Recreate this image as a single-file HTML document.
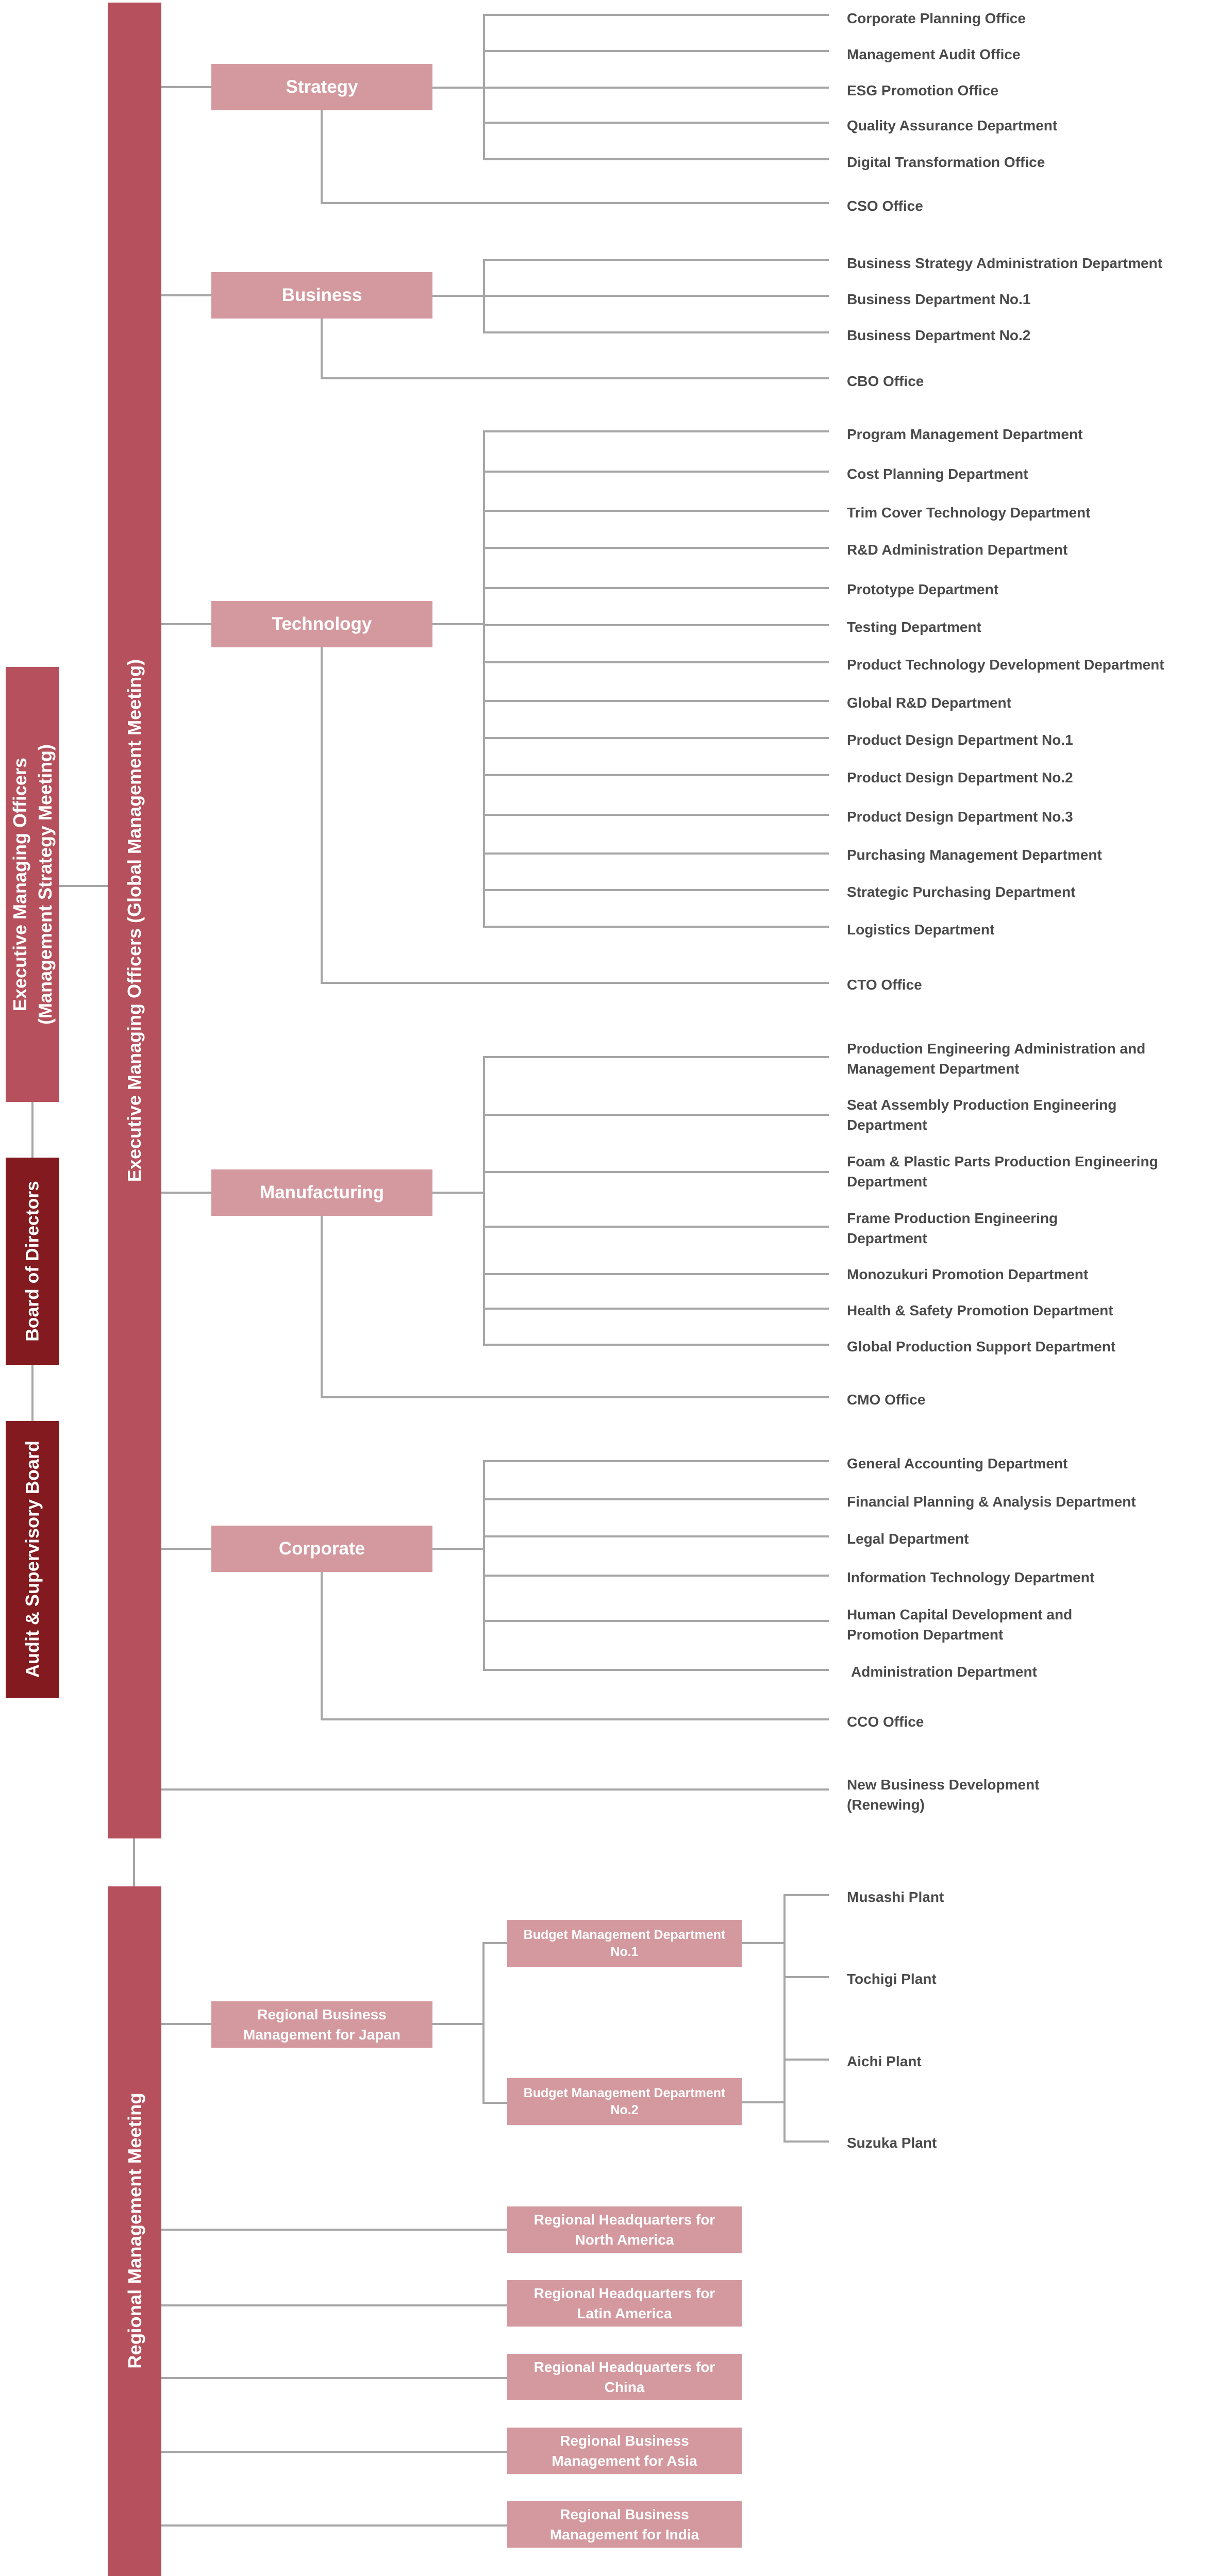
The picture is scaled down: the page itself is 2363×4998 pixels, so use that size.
<!DOCTYPE html>
<html>
<head>
<meta charset="utf-8">
<style>
html,body{margin:0;padding:0;background:#fff;}
body{width:2363px;height:4998px;position:relative;overflow:hidden;font-family:"Liberation Sans",sans-serif;}
.h{position:absolute;height:4px;background:#a6a6a6;}
.v{position:absolute;width:4px;background:#a6a6a6;}
.t{position:absolute;left:1643px;margin-top:3px;font-weight:bold;font-size:28px;line-height:39px;color:#4a4a4a;white-space:nowrap;}
.box{position:absolute;background:#d4999f;color:#fff;display:flex;align-items:center;justify-content:center;text-align:center;font-weight:bold;}
.main{left:410px;width:429px;height:90px;font-size:35px;}
.bar{position:absolute;background:#b5505c;}
.dark{position:absolute;background:#831a1f;}
.rot{position:absolute;transform:translate(-50%,-50%) rotate(-90deg);white-space:nowrap;color:#fff;font-weight:bold;text-align:center;}
.sb{font-size:28px;line-height:39.5px;}
</style>
</head>
<body>

<!-- Bars -->
<div class="bar" style="left:209px;top:5px;width:104px;height:3562px;"></div>
<div class="bar" style="left:209px;top:3660px;width:104px;height:1338px;"></div>
<div class="v" style="left:258px;top:3567px;height:93px;"></div>

<div class="rot" style="left:261px;top:1786px;font-size:36px;">Executive Managing Officers (Global Management Meeting)</div>
<div class="rot" style="left:262px;top:4328px;font-size:36.5px;">Regional Management Meeting</div>

<!-- Left boxes -->
<div class="bar" style="left:11px;top:1294px;width:104px;height:844px;"></div>
<div class="rot" style="left:63px;top:1716px;font-size:36px;line-height:49px;">Executive Managing Officers<br>(Management Strategy Meeting)</div>
<div class="dark" style="left:11px;top:2246px;width:104px;height:402px;"></div>
<div class="rot" style="left:63px;top:2447px;font-size:35.5px;">Board of Directors</div>
<div class="dark" style="left:11px;top:2757px;width:104px;height:537px;"></div>
<div class="rot" style="left:63px;top:3025px;font-size:36px;">Audit &amp; Supervisory Board</div>
<div class="h" style="left:115px;top:1717px;width:94px;"></div>
<div class="v" style="left:61px;top:2138px;height:108px;"></div>
<div class="v" style="left:61px;top:2648px;height:109px;"></div>

<!-- Main boxes -->
<div class="box main" style="top:124px;">Strategy</div>
<div class="box main" style="top:528px;">Business</div>
<div class="box main" style="top:1166px;">Technology</div>
<div class="box main" style="top:2269px;">Manufacturing</div>
<div class="box main" style="top:2960px;">Corporate</div>

<!-- Bar to box connectors -->
<div class="h" style="left:313px;top:167px;width:97px;"></div>
<div class="h" style="left:313px;top:571px;width:97px;"></div>
<div class="h" style="left:313px;top:1209px;width:97px;"></div>
<div class="h" style="left:313px;top:2312px;width:97px;"></div>
<div class="h" style="left:313px;top:3003px;width:97px;"></div>
<div class="h" style="left:313px;top:3925px;width:97px;"></div>

<!-- Box to vertical connectors -->
<div class="h" style="left:839px;top:168px;width:102px;"></div>
<div class="h" style="left:839px;top:572px;width:102px;"></div>
<div class="h" style="left:839px;top:1209px;width:102px;"></div>
<div class="h" style="left:839px;top:2312px;width:102px;"></div>
<div class="h" style="left:839px;top:3003px;width:102px;"></div>

<!-- Verticals at x=939 -->
<div class="v" style="left:937px;top:27px;height:284px;"></div>
<div class="v" style="left:937px;top:502px;height:145px;"></div>
<div class="v" style="left:937px;top:835px;height:964px;"></div>
<div class="v" style="left:937px;top:2049px;height:562px;"></div>
<div class="v" style="left:937px;top:2833px;height:409px;"></div>

<!-- Down lines at x=624 -->
<div class="v" style="left:622px;top:214px;height:182px;"></div>
<div class="v" style="left:622px;top:618px;height:118px;"></div>
<div class="v" style="left:622px;top:1256px;height:653px;"></div>
<div class="v" style="left:622px;top:2359px;height:354px;"></div>
<div class="v" style="left:622px;top:3050px;height:288px;"></div>

<!-- Office lines -->
<div class="h" style="left:622px;top:392px;width:986px;"></div>
<div class="h" style="left:622px;top:732px;width:986px;"></div>
<div class="h" style="left:622px;top:1905px;width:986px;"></div>
<div class="h" style="left:622px;top:2709px;width:986px;"></div>
<div class="h" style="left:622px;top:3334px;width:986px;"></div>
<!-- New business -->
<div class="h" style="left:313px;top:3470px;width:1295px;"></div>

<!-- Strategy items -->
<div class="h" style="left:937px;top:27px;width:671px;"></div>
<div class="h" style="left:937px;top:97px;width:671px;"></div>
<div class="h" style="left:937px;top:168px;width:671px;"></div>
<div class="h" style="left:937px;top:236px;width:671px;"></div>
<div class="h" style="left:937px;top:307px;width:671px;"></div>
<div class="t" style="top:13px;">Corporate Planning Office</div>
<div class="t" style="top:83px;">Management Audit Office</div>
<div class="t" style="top:153px;">ESG Promotion Office</div>
<div class="t" style="top:221px;">Quality Assurance Department</div>
<div class="t" style="top:292px;">Digital Transformation Office</div>
<div class="t" style="top:377px;">CSO Office</div>

<!-- Business items -->
<div class="h" style="left:937px;top:502px;width:671px;"></div>
<div class="h" style="left:937px;top:572px;width:671px;"></div>
<div class="h" style="left:937px;top:643px;width:671px;"></div>
<div class="t" style="top:488px;">Business Strategy Administration Department</div>
<div class="t" style="top:558px;">Business Department No.1</div>
<div class="t" style="top:628px;">Business Department No.2</div>
<div class="t" style="top:717px;">CBO Office</div>

<!-- Technology items -->
<div class="h" style="left:937px;top:835px;width:671px;"></div>
<div class="h" style="left:937px;top:913px;width:671px;"></div>
<div class="h" style="left:937px;top:989px;width:671px;"></div>
<div class="h" style="left:937px;top:1061px;width:671px;"></div>
<div class="h" style="left:937px;top:1139px;width:671px;"></div>
<div class="h" style="left:937px;top:1211px;width:671px;"></div>
<div class="h" style="left:937px;top:1283px;width:671px;"></div>
<div class="h" style="left:937px;top:1358px;width:671px;"></div>
<div class="h" style="left:937px;top:1430px;width:671px;"></div>
<div class="h" style="left:937px;top:1502px;width:671px;"></div>
<div class="h" style="left:937px;top:1579px;width:671px;"></div>
<div class="h" style="left:937px;top:1654px;width:671px;"></div>
<div class="h" style="left:937px;top:1725px;width:671px;"></div>
<div class="h" style="left:937px;top:1796px;width:671px;"></div>
<div class="t" style="top:820px;">Program Management Department</div>
<div class="t" style="top:897px;">Cost Planning Department</div>
<div class="t" style="top:972px;">Trim Cover Technology Department</div>
<div class="t" style="top:1044px;">R&amp;D Administration Department</div>
<div class="t" style="top:1121px;">Prototype Department</div>
<div class="t" style="top:1194px;">Testing Department</div>
<div class="t" style="top:1267px;">Product Technology Development Department</div>
<div class="t" style="top:1341px;">Global R&amp;D Department</div>
<div class="t" style="top:1413px;">Product Design Department No.1</div>
<div class="t" style="top:1486px;">Product Design Department No.2</div>
<div class="t" style="top:1562px;">Product Design Department No.3</div>
<div class="t" style="top:1636px;">Purchasing Management Department</div>
<div class="t" style="top:1708px;">Strategic Purchasing Department</div>
<div class="t" style="top:1781px;">Logistics Department</div>
<div class="t" style="top:1888px;">CTO Office</div>

<!-- Manufacturing items -->
<div class="h" style="left:937px;top:2049px;width:671px;"></div>
<div class="h" style="left:937px;top:2161px;width:671px;"></div>
<div class="h" style="left:937px;top:2272px;width:671px;"></div>
<div class="h" style="left:937px;top:2378px;width:671px;"></div>
<div class="h" style="left:937px;top:2470px;width:671px;"></div>
<div class="h" style="left:937px;top:2537px;width:671px;"></div>
<div class="h" style="left:937px;top:2607px;width:671px;"></div>
<div class="t" style="top:2012px;">Production Engineering Administration and<br>Management Department</div>
<div class="t" style="top:2121px;">Seat Assembly Production Engineering<br>Department</div>
<div class="t" style="top:2231px;">Foam &amp; Plastic Parts Production Engineering<br>Department</div>
<div class="t" style="top:2341px;">Frame Production Engineering<br>Department</div>
<div class="t" style="top:2450px;">Monozukuri Promotion Department</div>
<div class="t" style="top:2520px;">Health &amp; Safety Promotion Department</div>
<div class="t" style="top:2590px;">Global Production Support Department</div>
<div class="t" style="top:2693px;">CMO Office</div>

<!-- Corporate items -->
<div class="h" style="left:937px;top:2833px;width:671px;"></div>
<div class="h" style="left:937px;top:2907px;width:671px;"></div>
<div class="h" style="left:937px;top:2979px;width:671px;"></div>
<div class="h" style="left:937px;top:3055px;width:671px;"></div>
<div class="h" style="left:937px;top:3143px;width:671px;"></div>
<div class="h" style="left:937px;top:3238px;width:671px;"></div>
<div class="t" style="top:2817px;">General Accounting Department</div>
<div class="t" style="top:2891px;">Financial Planning &amp; Analysis Department</div>
<div class="t" style="top:2963px;">Legal Department</div>
<div class="t" style="top:3038px;">Information Technology Department</div>
<div class="t" style="top:3110px;">Human Capital Development and<br>Promotion Department</div>
<div class="t" style="top:3221px;left:1651px;">Administration Department</div>
<div class="t" style="top:3318px;">CCO Office</div>
<div class="t" style="top:3440px;">New Business Development<br>(Renewing)</div>

<!-- Lower section: Japan -->
<div class="box sb" style="left:410px;top:3883px;width:429px;height:90px;">Regional Business<br>Management for Japan</div>
<div class="h" style="left:839px;top:3925px;width:101px;"></div>
<div class="v" style="left:936px;top:3768px;height:314px;"></div>
<div class="h" style="left:936px;top:3768px;width:48px;"></div>
<div class="h" style="left:936px;top:4078px;width:48px;"></div>
<div class="box" style="left:984px;top:3725px;width:455px;height:91px;font-size:25px;line-height:32.5px;">Budget Management Department<br>No.1</div>
<div class="box" style="left:984px;top:4032px;width:455px;height:91px;font-size:25px;line-height:32.5px;">Budget Management Department<br>No.2</div>
<div class="h" style="left:1439px;top:3768px;width:85px;"></div>
<div class="h" style="left:1439px;top:4077px;width:85px;"></div>
<div class="v" style="left:1520px;top:3675px;height:482px;"></div>
<div class="h" style="left:1520px;top:3675px;width:88px;"></div>
<div class="h" style="left:1520px;top:3834px;width:88px;"></div>
<div class="h" style="left:1520px;top:3994px;width:88px;"></div>
<div class="h" style="left:1520px;top:4153px;width:88px;"></div>
<div class="t" style="top:3658px;">Musashi Plant</div>
<div class="t" style="top:3817px;">Tochigi Plant</div>
<div class="t" style="top:3977px;">Aichi Plant</div>
<div class="t" style="top:4135px;">Suzuka Plant</div>

<!-- Regional HQs -->
<div class="h" style="left:313px;top:4324px;width:671px;"></div>
<div class="h" style="left:313px;top:4471px;width:671px;"></div>
<div class="h" style="left:313px;top:4612px;width:671px;"></div>
<div class="h" style="left:313px;top:4755px;width:671px;"></div>
<div class="h" style="left:313px;top:4898px;width:671px;"></div>
<div class="box sb" style="left:984px;top:4281px;width:455px;height:90px;">Regional Headquarters for<br>North America</div>
<div class="box sb" style="left:984px;top:4424px;width:455px;height:90px;">Regional Headquarters for<br>Latin America</div>
<div class="box sb" style="left:984px;top:4567px;width:455px;height:90px;">Regional Headquarters for<br>China</div>
<div class="box sb" style="left:984px;top:4710px;width:455px;height:90px;">Regional Business<br>Management for Asia</div>
<div class="box sb" style="left:984px;top:4853px;width:455px;height:90px;">Regional Business<br>Management for India</div>

</body>
</html>
